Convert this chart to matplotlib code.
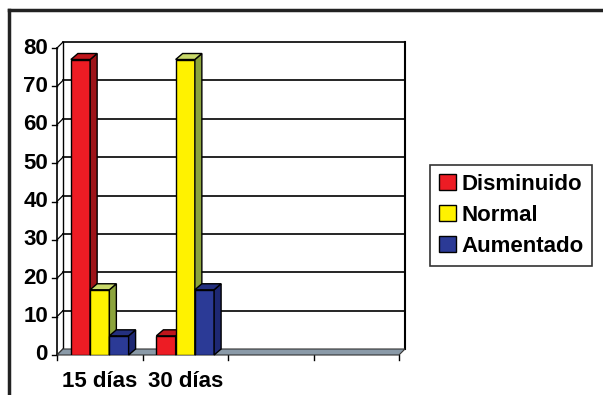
import matplotlib
matplotlib.use("Agg")
import matplotlib.pyplot as plt
from matplotlib.patches import Polygon, Rectangle
from matplotlib.lines import Line2D
import matplotlib.transforms as mtransforms
import numpy as np

# ================= DATA ================= #
categories = ["15 días", "30 días", "", ""]
series_names = ["Disminuido", "Normal", "Aumentado"]
disminuido = [77, 5]
normal = [17, 77]
aumentado = [5, 17]
yticks = [0, 10, 20, 30, 40, 50, 60, 70, 80]

# ================= STYLE ================= #
front_colors = ["#ED1C24", "#FFF200", "#2B3A96"]
side_colors = ["#9E1419", "#8CA43C", "#1E2873"]
top_colors = ["#C0161C", "#C8D86A", "#24307F"]
DX, DY = 7, 6          # bar depth offset (pixels)
WX, WY = 6, 6          # back wall offset (pixels)
W = 603 / 100
H = 395 / 100
FS = 16

plt.rcParams["font.family"] = ["Liberation Sans", "DejaVu Sans"]
plt.rcParams["font.weight"] = "bold"

fig = plt.figure(figsize=(W, H), dpi=100)
fig.patch.set_facecolor("white")

# front plane of the plot, in pixels
left_px, right_px, top_px, bottom_px = 57, 399, 48, 355
ax = fig.add_axes([left_px / 603, (395 - bottom_px) / 395,
                   (right_px - left_px) / 603, (bottom_px - top_px) / 395])
ax.set_xlim(0, len(categories))
ax.set_ylim(0, 80)
ax.patch.set_alpha(0)
for s in ax.spines.values():
    s.set_visible(False)
ax.set_xticks([])
ax.set_yticks([])

wall = mtransforms.offset_copy(ax.transData, fig=fig, x=WX, y=WY, units="dots")
bar_back = mtransforms.offset_copy(ax.transData, fig=fig, x=DX, y=DY, units="dots")
ftr = fig.transFigure


def pix(tr, x, y):
    return ftr.inverted().transform(tr.transform((x, y)))


def seg(p0, p1, **kw):
    ax.add_line(Line2D([p0[0], p1[0]], [p0[1], p1[1]], transform=ftr, clip_on=False, **kw))


n = len(categories)

# back wall grid and frame
for v in yticks[1:]:
    seg(pix(wall, 0, v), pix(wall, n, v), color="black", lw=1.2, zorder=1)
seg(pix(wall, 0, 0), pix(wall, 0, 80), color="black", lw=1, zorder=1)
seg(pix(wall, n, 0), pix(wall, n, 80), color="black", lw=1.5, zorder=1)

# left wall diagonals + ticks + labels
px = ftr.inverted()
for v in yticks:
    p0 = ax.transData.transform((0, v))
    seg(pix(ax.transData, 0, v), pix(wall, 0, v), color="black", lw=0.9, zorder=1)
    seg(px.transform((p0[0] - 5, p0[1])), px.transform(p0), color="black", lw=1, zorder=1)
    ax.text(p0[0] - 9, p0[1], str(v), transform=mtransforms.IdentityTransform(),
            ha="right", va="center", fontsize=FS, fontweight="bold")
seg(pix(ax.transData, 0, 0), pix(ax.transData, 0, 80), color="black", lw=1.2, zorder=1)

# floor
floor = [pix(ax.transData, 0, 0), pix(ax.transData, n, 0), pix(wall, n, 0), pix(wall, 0, 0)]
ax.add_patch(Polygon(floor, closed=True, transform=ftr, clip_on=False,
                     facecolor="#8A9AA8", edgecolor="#333333", lw=0.8, zorder=1.5))
for i in range(n + 1):
    p0 = ax.transData.transform((i, 0))
    seg(px.transform(p0), px.transform((p0[0], p0[1] - 5)), color="black", lw=1, zorder=1)

# bars
values = [disminuido, normal, aumentado]
bw = 0.225
x = np.arange(len(disminuido)) + 0.5
for k, vals in enumerate(values):
    xs = x + (k - 1) * bw
    bars = ax.bar(xs, vals, width=bw, color=front_colors[k], edgecolor="black",
                  lw=1, zorder=3 + k, label=series_names[k])
    for b in bars:
        x0, x1 = b.get_x(), b.get_x() + b.get_width()
        h = b.get_height()
        side = [pix(ax.transData, x1, 0), pix(bar_back, x1, 0),
                pix(bar_back, x1, h), pix(ax.transData, x1, h)]
        top = [pix(ax.transData, x0, h), pix(ax.transData, x1, h),
               pix(bar_back, x1, h), pix(bar_back, x0, h)]
        ax.add_patch(Polygon(side, closed=True, transform=ftr, clip_on=False,
                             facecolor=side_colors[k], edgecolor="black", lw=1, zorder=3 + k))
        ax.add_patch(Polygon(top, closed=True, transform=ftr, clip_on=False,
                             facecolor=top_colors[k], edgecolor="black", lw=1, zorder=3 + k))

# category labels
for i, c in enumerate(categories):
    if c:
        p = ax.transData.transform((i + 0.5, 0))
        ax.text(p[0], p[1] - 16, c, transform=mtransforms.IdentityTransform(),
                ha="center", va="top", fontsize=FS, fontweight="bold")

# legend
handles = [Rectangle((0, 0), 1, 1, facecolor=front_colors[k], edgecolor="black", lw=1)
           for k in range(3)]
leg = fig.legend(handles, series_names, loc="upper left",
                 bbox_to_anchor=(430 / 603, 1 - 165 / 395), frameon=True, fancybox=False,
                 edgecolor="black", fontsize=FS, handlelength=0.75, handleheight=0.75,
                 handletextpad=0.25, labelspacing=0.45, borderpad=0.4, borderaxespad=0)
leg.get_frame().set_linewidth(1.2)

# outer frame
fig.add_artist(Line2D([9 / 603, 9 / 603], [0, 1 - 10 / 395], color="#222222", lw=2.5))
fig.add_artist(Line2D([9 / 603, 1], [1 - 10 / 395, 1 - 10 / 395], color="#222222", lw=2.5))

fig.savefig("out.png", dpi=100)
